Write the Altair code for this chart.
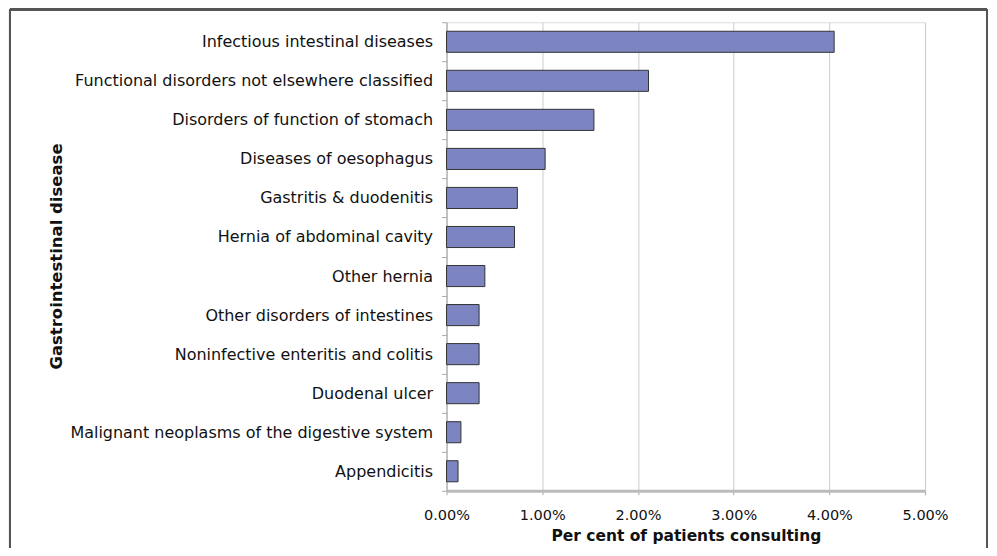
import altair as alt
import pandas as pd

categories = [
    "Infectious intestinal diseases",
    "Functional disorders not elsewhere classified",
    "Disorders of function of stomach",
    "Diseases of oesophagus",
    "Gastritis & duodenitis",
    "Hernia of abdominal cavity",
    "Other hernia",
    "Other disorders of intestines",
    "Noninfective enteritis and colitis",
    "Duodenal ulcer",
    "Malignant neoplasms of the digestive system",
    "Appendicitis",
]
values = [0.0405, 0.0211, 0.0154, 0.0103, 0.0074, 0.0071, 0.0040, 0.0034, 0.0034, 0.0034, 0.0015, 0.0012]
x_ticks = [0, 0.01, 0.02, 0.03, 0.04, 0.05]

df = pd.DataFrame({"disease": categories, "pct": values})

FONT = "DejaVu Sans"

bars = alt.Chart(df).mark_bar(
    color="#7c85c2", stroke="#333333", strokeWidth=1, height=alt.RelativeBandSize(0.54)
).encode(
    y=alt.Y("disease:N", sort=categories,
            scale=alt.Scale(paddingInner=0, paddingOuter=0),
            axis=alt.Axis(title="Gastrointestinal disease", tickBand="extent", grid=False,
                          tickSize=5, tickColor="#aaaaaa", domainColor="#aaaaaa",
                          labelPadding=9, labelFontSize=16, labelColor="#111111",
                          labelLimit=500, titleFontSize=16.5, titleFontWeight="bold",
                          titleX=-382, titleY=234, titleAngle=270, titleBaseline="bottom",
                          titleColor="#111111")),
    x=alt.X("pct:Q", scale=alt.Scale(domain=[0, 0.05], nice=False),
            axis=alt.Axis(title="Per cent of patients consulting", format=".2%",
                          values=x_ticks, labelFlush=False,
                          grid=True, gridColor="#cccccc", tickSize=4, tickColor="#aaaaaa",
                          domainColor="#bbbbbb", domainWidth=3, labelPadding=14,
                          labelFontSize=14.5, labelColor="#111111", titleFontSize=15.5,
                          titleFontWeight="bold", titlePadding=6, titleColor="#111111")),
)

frame_color = "#555555"
left = alt.Chart(df).mark_rule(color=frame_color, strokeWidth=2).encode(
    x=alt.value(-437), y=alt.value(-13), y2=alt.value(700))
top = alt.Chart(df).mark_rule(color=frame_color, strokeWidth=2).encode(
    x=alt.value(-437), x2=alt.value(541), y=alt.value(-13))
right = alt.Chart(df).mark_rule(color=frame_color, strokeWidth=2).encode(
    x=alt.value(541), y=alt.value(-13), y2=alt.value(700))

chart = alt.layer(bars, left, top, right).properties(
    width=479, height=469,
    autosize=alt.AutoSizeParams(type="none"),
    padding={"left": 439, "top": 14, "right": 64, "bottom": 57},
).configure_view(stroke="#aaaaaa", strokeWidth=1.5).configure(font=FONT)

chart.save("out.html", embed_options={"renderer": "svg", "actions": False})
